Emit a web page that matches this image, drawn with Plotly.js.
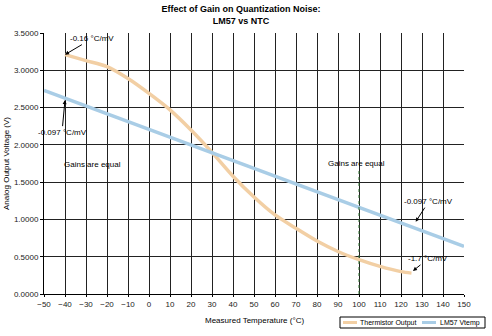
<!DOCTYPE html>
<html><head><meta charset="utf-8">
<script src="https://cdn.plot.ly/plotly-3.0.1.min.js"></script>
<style>html,body{margin:0;padding:0;background:#fff}#c{width:492px;height:336px}</style>
</head><body><div id="c"></div>
<script>
// Thermistor output (V) vs measured temperature
const thermTemp = [-40, -30, -20, -10, 0, 10, 20, 30, 40, 50, 60, 70, 80, 90, 100, 110, 120, 125];
const thermVolt = [3.21, 3.13, 3.05, 2.89, 2.69, 2.47, 2.20, 1.90, 1.58, 1.30, 1.06, 0.88, 0.71, 0.57, 0.46, 0.37, 0.30, 0.28];
// LM57 Vtemp (linear)
const lmTemp = [-50, 150];
const lmVolt = [2.73, 0.64];
const xTicks = [-50,-40,-30,-20,-10,0,10,20,30,40,50,60,70,80,90,100,110,120,130,140,150];
const seriesNames = ['Thermistor Output', 'LM57 Vtemp'];
const seriesColors = ['#f2cfa4', '#a9cde6'];

const F = 'Liberation Sans, Arial, sans-serif';
const traces = [
  {x: thermTemp, y: thermVolt, name: seriesNames[0], mode: 'lines', line: {color: seriesColors[0], width: 3.5, shape: 'spline', smoothing: 0.8}},
  {x: lmTemp, y: lmVolt, name: seriesNames[1], mode: 'lines', line: {color: seriesColors[1], width: 3.5}}
];
const ann = (text, x, y, ax, ay, arrow) => ({text, x, y, xref: 'x', yref: 'y', ax, ay, showarrow: arrow,
  arrowhead: 2, arrowsize: 0.8, arrowwidth: 1, arrowcolor: '#000', font: {family: F, size: 8, color: '#000'}});
// legend drawn in paper coordinates (plot area: 420 x 261 px)
const px = v => (v - 44) / 420, py = v => (294 - v) / 261;
const legShapes = [
  {type: 'rect', xref: 'paper', yref: 'paper', x0: px(340), x1: px(485), y0: py(317), y1: py(328), line: {color: '#000', width: 1}, fillcolor: '#fff'},
  {type: 'line', xref: 'paper', yref: 'paper', x0: px(343), x1: px(357), y0: py(322.5), y1: py(322.5), line: {color: seriesColors[0], width: 3}},
  {type: 'line', xref: 'paper', yref: 'paper', x0: px(422), x1: px(436), y0: py(322.5), y1: py(322.5), line: {color: seriesColors[1], width: 3}}
];
const legText = [
  {text: seriesNames[0], xref: 'paper', yref: 'paper', x: px(358), y: py(322.5), xanchor: 'left', yanchor: 'middle', showarrow: false, font: {family: F, size: 7, color: '#000'}},
  {text: seriesNames[1], xref: 'paper', yref: 'paper', x: px(438), y: py(322.5), xanchor: 'left', yanchor: 'middle', showarrow: false, font: {family: F, size: 7, color: '#000'}}
];
const layout = {
  width: 492, height: 336,
  margin: {l: 44, r: 28, t: 33, b: 42},
  paper_bgcolor: '#fff', plot_bgcolor: '#fff',
  title: {text: '<b>Effect of Gain on Quantization Noise:</b><br><b>LM57 vs NTC</b>', x: 241/492, xref: 'container', xanchor: 'center',
    yref: 'container', y: 1 - 12/336, yanchor: 'middle', font: {family: F, size: 9, color: '#000'}},
  xaxis: {range: [-50, 150], tickvals: xTicks, ticks: 'outside', ticklen: 2, tickcolor: '#000',
    showgrid: true, gridcolor: '#222', gridwidth: 1, showline: true, linecolor: '#000', linewidth: 1, zeroline: false,
    tickfont: {family: F, size: 8, color: '#222'}},
  yaxis: {range: [0, 3.5], dtick: 0.5, tickformat: '.4f', ticks: 'outside', ticklen: 3, tickcolor: '#000',
    showgrid: true, gridcolor: '#222', gridwidth: 1, showline: true, linecolor: '#000', linewidth: 1, zeroline: false,
    tickfont: {family: F, size: 8, color: '#222'},
    title: {text: 'Analog Output Voltage (V)', font: {family: F, size: 8, color: '#000'}, standoff: 3}},
  showlegend: false,
  shapes: [{type: 'line', xref: 'x', yref: 'y', x0: 100, x1: 100, y0: 0, y1: 1.66, line: {color: '#2f6e2f', width: 1, dash: 'dot'}}].concat(legShapes),
  annotations: [
    {text: 'Measured Temperature (°C)', xref: 'paper', yref: 'paper', x: 0.5, y: py(320), xanchor: 'center', yanchor: 'middle',
      showarrow: false, font: {family: F, size: 8, color: '#000'}},
    ann('-0.16 °C/mV', -40, 3.21, 27, -16, true),
    ann('-0.097 °C/mV', -40, 2.6, -3, 32, true),
    ann('-0.097 °C/mV', 127, 0.97, 13, -20, true),
    ann('-1.7 °C/mV', 125.7, 0.31, 15, -12, true),
    ann('Gains are equal', -26.7, 1.73, 0, 0, false),
    ann('Gains are equal', 99, 1.75, 0, 0, false)
  ].concat(legText)
};
Plotly.newPlot('c', traces, layout, {staticPlot: true, displayModeBar: false});
</script></body></html>
